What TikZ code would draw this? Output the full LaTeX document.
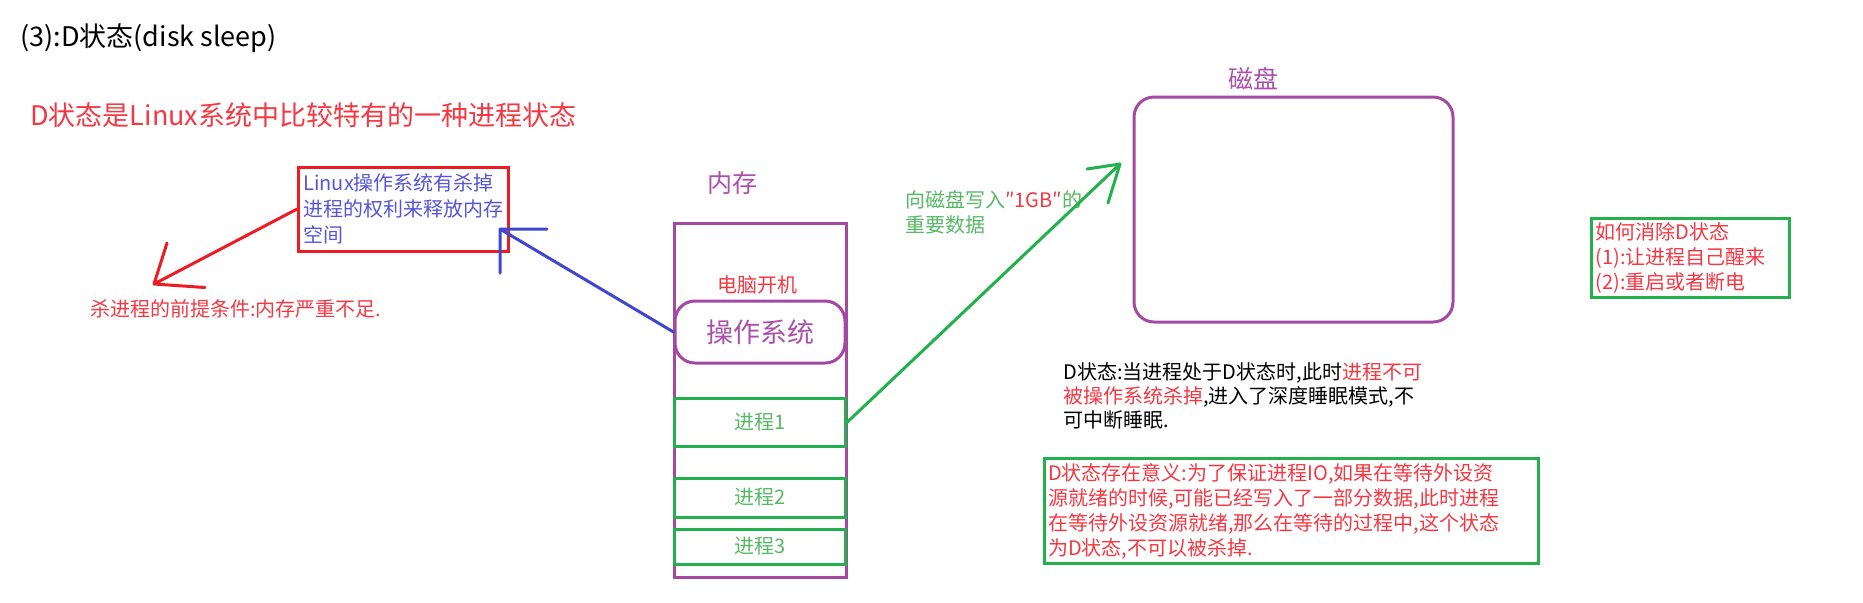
\documentclass[tikz,border=0pt]{standalone}
\usepackage{fontspec}
\setmainfont{Noto Sans CJK SC}
\usepackage{xcolor}
\usepackage{tikz}
\usetikzlibrary{arrows.meta, positioning}
\definecolor{MemPurple}{RGB}{163, 73, 164}
\definecolor{BoxGreen}{RGB}{34, 177, 76}
\definecolor{BoxRed}{RGB}{237, 28, 36}
\definecolor{ArrowBlue}{RGB}{63, 72, 204}
\definecolor{TextRed}{RGB}{245, 55, 65}
\definecolor{TextGreen}{RGB}{85, 185, 100}
\definecolor{TextBlue}{RGB}{85, 85, 215}
\definecolor{TextPurple}{RGB}{170, 80, 170}

\begin{document}
\begin{tikzpicture}[x=0.5pt,y=-0.5pt,
  memcell/.style={draw=BoxGreen, line width=1.5pt, minimum width=85.5pt, inner sep=0,
    text=TextGreen, font=\fontsize{10}{12}\selectfont},
  notebox/.style={line width=1.5pt, inner sep=2pt, align=left, anchor=north west,
    font=\fontsize{10}{12.5}\selectfont},
  barb/.style={line width=1.5pt, line cap=round, line join=round}]
  \path[use as bounding box] (0,0) rectangle (1863,602);

  % titles
  \node[anchor=west, inner sep=0, font=\fontsize{13.5}{16}\selectfont] (title) at (20,38) {(3):D状态(disk sleep)};
  \node[anchor=west, inner sep=0, text=TextRed, font=\fontsize{13.5}{16}\selectfont] (headline) at (30,115)
    {D状态是Linux系统中比较特有的一种进程状态};

  % memory
  \node[draw=MemPurple, line width=1.5pt, minimum width=86pt, minimum height=177pt] (mem) at (760,400) {};
  \node[text=TextPurple, inner sep=0, font=\fontsize{12.5}{15}\selectfont] (memlabel) at (732,183) {内存};
  \node[text=TextRed, inner sep=0, font=\fontsize{10}{12}\selectfont] (boot) at (757,285) {电脑开机};
  \node[draw=MemPurple, line width=1.5pt, rounded corners=10pt, minimum width=85pt, minimum height=31pt,
    text=TextPurple, font=\fontsize{13.5}{16}\selectfont] (os) at (760,332) {操作系统};
  \foreach \y/\h/\n in {422.4/24.3/1, 497.5/19.5/2, 546.5/17.5/3}{
    \node[memcell, minimum height=\h pt] (p\n) at (760,\y) {进程\n};
  }

  % disk
  \node[draw=MemPurple, line width=1.5pt, rounded corners=10pt, minimum width=159.5pt, minimum height=112.5pt]
    (disk) at (1293.5,209.5) {};
  \node[text=TextPurple, inner sep=0, font=\fontsize{12.5}{15}\selectfont] (disklabel) at (1253,79) {磁盘};
  \node[anchor=north west, inner sep=0, align=left, text=TextGreen, font=\fontsize{10}{12.5}\selectfont]
    (writenote) at (905,190) {向磁盘写入\textcolor{TextRed}{″1GB″}的\\重要数据};

  % kill
  \node[notebox, anchor=center, draw=BoxRed, text=TextBlue, minimum width=104.7pt, minimum height=42pt]
    (killbox) at (403.3,209) {Linux操作系统有杀掉\\[0.5pt]进程的权利来释放内存\\[0.5pt]空间};
  \node[anchor=west, inner sep=0, text=TextRed, font=\fontsize{10}{12}\selectfont] (killnote) at (90,309)
    {杀进程的前提条件:内存严重不足.};

  % notes
  \node[anchor=north west, inner sep=0, align=left, font=\fontsize{10}{12}\selectfont] (dnote) at (1063,362)
    {D状态:当进程处于D状态时,此时\textcolor{TextRed}{进程不可}\\\textcolor{TextRed}{被操作系统杀掉},进入了深度睡眠模式,不\\可中断睡眠.};
  \node[notebox, draw=BoxGreen, text=TextRed, text width=243pt, minimum height=52.3pt] (dmeaning) at (1042.7,457.3)
    {D状态存在意义:为了保证进程IO,如果在等待外设资\\源就绪的时候,可能已经写入了一部分数据,此时进程\\在等待外设资源就绪,那么在等待的过程中,这个状态\\为D状态,不可以被杀掉.};
  \node[notebox, draw=BoxGreen, text=TextRed, text width=95pt, minimum height=39.5pt] (remedy) at (1590,217)
    {如何消除D状态\\(1):让进程自己醒来\\(2):重启或者断电};

  % arrows, heads drawn by hand
  \coordinate (killtip) at (154,284);
  \coordinate (ostip) at (500,229);
  \coordinate (disktip) at (1120,164);
  \draw[barb, BoxRed] (killbox.west) -- (killtip) -- +(13,-41) (killtip) -- +(51,3.5);
  \draw[barb, ArrowBlue] (os.west) -- (ostip) -- +(47,0) (ostip) -- +(0,44);
  \draw[barb, BoxGreen] (p1.east) -- (disktip) -- +(-33,5) (disktip) -- +(-12,39);
\end{tikzpicture}
\end{document}
